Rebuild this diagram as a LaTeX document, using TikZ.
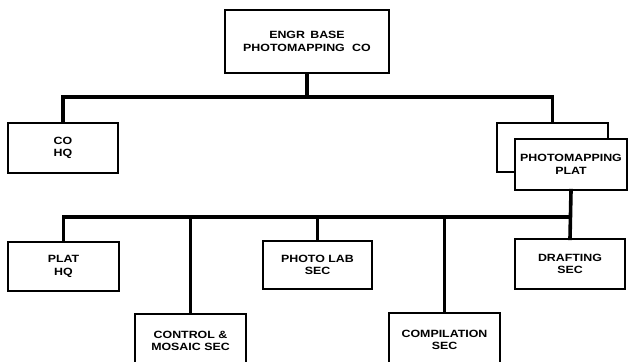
\documentclass[tikz,border=0pt]{standalone}
\usepackage{fontspec}
\newfontfamily\labfont[FakeStretch=1.18]{Liberation Sans}
\begin{document}
\begin{tikzpicture}[x=1pt,y=-1pt,
  box/.style={draw=black,line width=1.3pt,fill=white,align=center,inner sep=0pt,
    font=\labfont\bfseries\fontsize{10.5}{12.5}\selectfont},
  conn/.style={line width=3.6pt,line cap=rect}]
\clip (0,0) rectangle (628,361);
\fill[white] (0,0) rectangle (628,361);
% boxes
\node[box,minimum width=164pt,minimum height=63pt] (top) at (307,41.5) {ENGR\hspace{0.5em}BASE\\PHOTOMAPPING\hspace{0.7em}CO};
\node[box,minimum width=110pt,minimum height=50pt] (cohq) at (63,148) {CO\\HQ};
\node[box,minimum width=111pt,minimum height=49pt] (platback) at (552.5,147.5) {};
\node[box,minimum width=112pt,minimum height=51pt] (plat) at (571,164.5) {PHOTOMAPPING\\PLAT};
\node[box,minimum width=111pt,minimum height=49pt] (plathq) at (63.5,266.5) {PLAT\\HQ};
\node[box,minimum width=111pt,minimum height=54pt] (control) at (190.5,341) {CONTROL \&\\MOSAIC SEC};
\node[box,minimum width=109pt,minimum height=48pt] (photolab) at (317.5,265) {PHOTO LAB\\SEC};
\node[box,minimum width=111pt,minimum height=54pt] (compil) at (444.5,340) {COMPILATION\\SEC};
\node[box,minimum width=110pt,minimum height=50pt] (drafting) at (570,264) {DRAFTING\\SEC};
% bus coordinates
\coordinate (bus1) at (307,97);
\coordinate (bus2) at (570,217);
% connectors
\draw[conn] (top.south) -- (bus1);
\draw[conn] (cohq.north) -- (cohq.north |- bus1) -| (platback.north);
\draw[conn] (plat.south) -- (drafting.north);
\draw[conn] (plathq.north) -- (plathq.north |- bus2) -- (bus2);
\draw[conn] (control.north) -- (control.north |- bus2);
\draw[conn] (photolab.north) -- (photolab.north |- bus2);
\draw[conn] (compil.north) -- (compil.north |- bus2);
\end{tikzpicture}
\end{document}
